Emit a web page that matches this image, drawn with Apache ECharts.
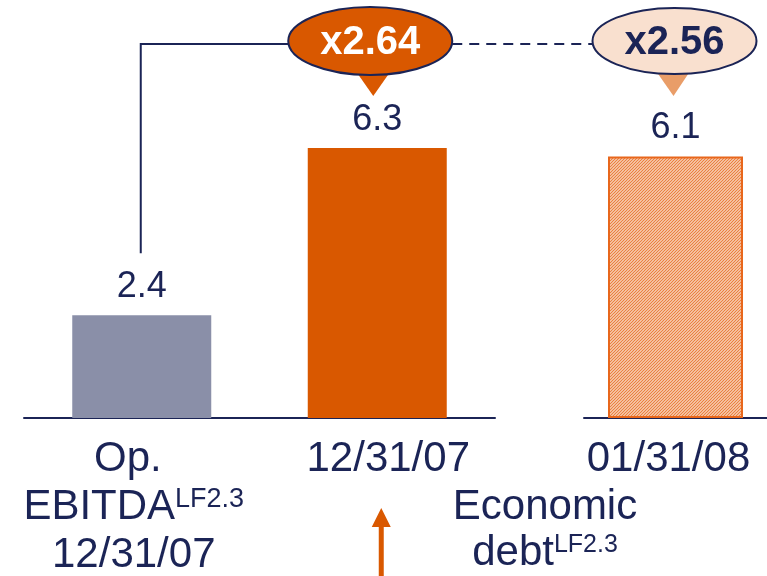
<!DOCTYPE html>
<html>
<head>
<meta charset="utf-8">
<script src="https://cdn.jsdelivr.net/npm/echarts@6/dist/echarts.min.js"></script>
<style>
html,body{margin:0;padding:0;background:#fff;}
#c{width:767px;height:576px;}
</style>
</head>
<body>
<div id="c"></div>
<script>
// ---- data ----
const categoriesLeft = ['Op. EBITDA 12/31/07', 'Economic debt 12/31/07'];
const valuesLeft = [2.4, 6.3];
const categoriesRight = ['Economic debt 01/31/08'];
const valuesRight = [6.1];
const tickLabelsLeft = ['Op. \nEBITDA{sup|LF2.3}\n12/31/07', '12/31/07'];
const tickLabelsRight = ['01/31/08'];
const multiples = ['x2.64', 'x2.56'];
const noteLines = ['Economic', 'debt{sup|LF2.3}'];

const NAVY = '#1b2456';
const ORANGE = '#d95800';
const GRAY = '#8a8fa8';
const FONT = 'Liberation Sans, Arial, sans-serif';

// hatch pattern
const pc = document.createElement('canvas');
pc.width = 3; pc.height = 3;
const g = pc.getContext('2d');
g.fillStyle = '#fdf3ec'; g.fillRect(0,0,3,3);
g.strokeStyle = '#ea8040'; g.lineWidth = 1.3;
g.beginPath(); g.moveTo(0,3); g.lineTo(3,0); g.moveTo(-1,1); g.lineTo(1,-1); g.moveTo(2,4); g.lineTo(4,2); g.stroke();

const chart = echarts.init(document.getElementById('c'), null, {renderer:'canvas'});

const axisLabelBase = {
  interval: 0,
  color: NAVY, fontSize: 42, fontFamily: FONT, lineHeight: 48, margin: 17,
  rich: { sup: { fontSize: 27, fontFamily: FONT, color: NAVY, verticalAlign: 'top', lineHeight: 27, padding:[3,0,0,0] } }
};

const valueLabel = { show: true, position: 'top', distance: 10, color: NAVY, fontSize: 36, fontFamily: FONT };

chart.setOption({
  animation: false,
  grid: [
    { left: 24, width: 471, top: 118, bottom: 158, containLabel: false, outerBoundsMode: 'none' },
    { left: 584, right: 0, top: 118, bottom: 158, containLabel: false, outerBoundsMode: 'none' }
  ],
  xAxis: [
    { type: 'category', gridIndex: 0,
      data: [
        { value: categoriesLeft[0], textStyle: { padding: [0, 16, 0, 0] } },
        { value: categoriesLeft[1], textStyle: { padding: [0, 0, 0, 22] } }
      ],
      axisLine: { lineStyle: { color: NAVY, width: 2 } }, axisTick: { show: false },
      axisLabel: Object.assign({}, axisLabelBase, { formatter: (v, i) => tickLabelsLeft[i] }) },
    { type: 'category', gridIndex: 1,
      data: [ { value: categoriesRight[0], textStyle: { padding: [0, 14, 0, 0] } } ],
      axisLine: { lineStyle: { color: NAVY, width: 2 } }, axisTick: { show: false },
      axisLabel: Object.assign({}, axisLabelBase, { formatter: (v, i) => tickLabelsRight[i] }) }
  ],
  yAxis: [
    { type: 'value', gridIndex: 0, min: 0, max: 7, show: false },
    { type: 'value', gridIndex: 1, min: 0, max: 7, show: false }
  ],
  series: [
    { type: 'bar', xAxisIndex: 0, yAxisIndex: 0, barWidth: 139,
      data: valuesLeft.map((v, i) => ({ value: v, itemStyle: { color: i === 0 ? GRAY : ORANGE } })),
      label: valueLabel },
    { type: 'bar', xAxisIndex: 1, yAxisIndex: 1, barWidth: 135,
      data: valuesRight.map(v => ({ value: v })),
      itemStyle: { color: { image: pc, repeat: 'repeat' }, borderColor: '#e8671c', borderWidth: 2 },
      label: valueLabel }
  ]
});

// ---- annotations computed from the axes ----
const b1 = chart.convertToPixel({ xAxisIndex: 0, yAxisIndex: 0 }, [0, valuesLeft[0]]);
const b2 = chart.convertToPixel({ xAxisIndex: 0, yAxisIndex: 0 }, [1, valuesLeft[1]]);
const b3 = chart.convertToPixel({ xAxisIndex: 1, yAxisIndex: 1 }, [0, valuesRight[0]]);

const cy = 41, rx = 82, ry = 34, lineY = 44;
const e1x = b2[0] - 7, e2x = b3[0] - 1;

const elements = [
  { type: 'polyline', shape: { points: [[b1[0] - 1, b1[1] - 62], [b1[0] - 1, lineY], [e1x - rx, lineY]] },
    style: { stroke: NAVY, lineWidth: 2, fill: null }, z: 10 },
  { type: 'line', shape: { x1: e1x + rx, y1: lineY, x2: e2x - rx, y2: lineY },
    style: { stroke: NAVY, lineWidth: 2, lineDash: [10, 7] }, z: 10 },
  { type: 'polygon', shape: { points: [[b2[0] - 25, 66], [b2[0] + 17, 66], [b2[0] - 4, 96]] },
    style: { fill: ORANGE }, z: 10 },
  { type: 'polygon', shape: { points: [[b3[0] - 23, 66], [b3[0] + 18, 66], [b3[0] - 2, 96]] },
    style: { fill: '#e99d68' }, z: 10 },
  { type: 'ellipse', shape: { cx: e1x, cy: cy, rx: rx, ry: ry },
    style: { fill: ORANGE, stroke: NAVY, lineWidth: 2 }, z: 11 },
  { type: 'ellipse', shape: { cx: e2x, cy: cy, rx: rx, ry: ry - 1 },
    style: { fill: '#f9e0cf', stroke: NAVY, lineWidth: 2 }, z: 11 },
  { type: 'text', x: e1x, y: cy + 2, z: 12,
    style: { text: multiples[0], fill: '#ffffff', font: 'bold 40px ' + FONT, align: 'center', verticalAlign: 'middle' } },
  { type: 'text', x: e2x, y: cy + 2, z: 12,
    style: { text: multiples[1], fill: NAVY, font: 'bold 40px ' + FONT, align: 'center', verticalAlign: 'middle' } },
  // note text
  { type: 'text', x: 545, y: 484, z: 12,
    style: { text: noteLines.join('\n'), fill: NAVY, fontSize: 42, fontFamily: FONT, lineHeight: 46, align: 'center',
      rich: { sup: { fontSize: 25, fontFamily: FONT, fill: NAVY, verticalAlign: 'top', lineHeight: 25, padding: [3,0,0,0] } } } },
  // arrow
  { type: 'line', shape: { x1: b2[0] + 4, y1: 576, x2: b2[0] + 4, y2: 524 },
    style: { stroke: ORANGE, lineWidth: 5 }, z: 10 },
  { type: 'polygon', shape: { points: [[b2[0] - 5.5, 527], [b2[0] + 13.5, 527], [b2[0] + 4, 508]] },
    style: { fill: ORANGE }, z: 10 }
];
chart.setOption({ graphic: { elements: elements } });
</script>
</body>
</html>
